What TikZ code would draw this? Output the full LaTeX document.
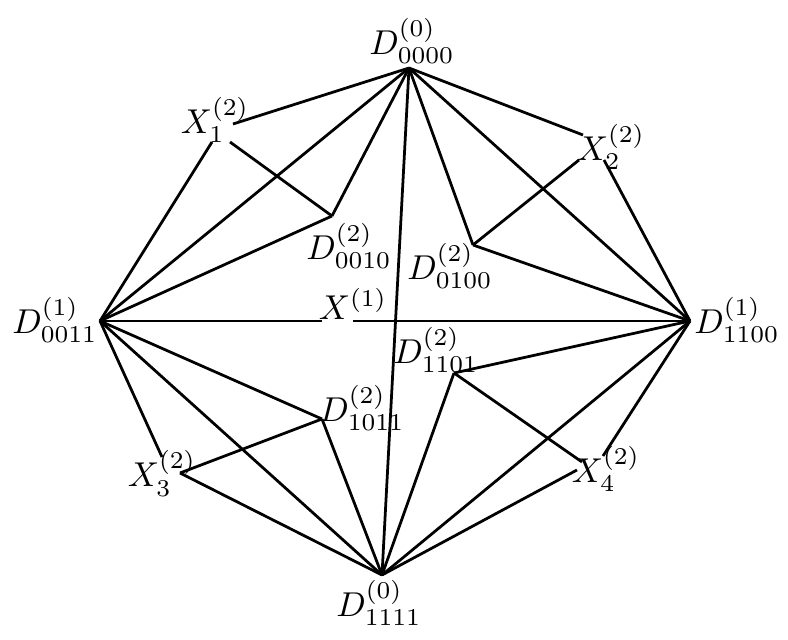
\documentclass[tikz,border=0pt]{standalone}
\begin{document}
\begin{tikzpicture}[x=0.29pt,y=-0.29pt,line width=0.8pt,
  lbl/.style={inner sep=0pt}]
\useasboundingbox (0,0) rectangle (788,640);
% meeting points
\coordinate (A) at (409,68);
\coordinate (B) at (382,575);
\coordinate (L) at (100,321);
\coordinate (R) at (690,321);
\coordinate (P0010) at (332,216);
\coordinate (P0100) at (473,245);
\coordinate (P1011) at (322,419);
\coordinate (P1101) at (454,373);
% labels
\node[lbl] (lA) at (412,41) {$D^{(0)}_{0000}$};
\node[lbl] (lB) at (379,603) {$D^{(0)}_{1111}$};
\node[lbl] (lL) at (55,320) {$D^{(1)}_{0011}$};
\node[lbl] (lR) at (737,320) {$D^{(1)}_{1100}$};
\node[lbl] (l0010) at (349,246) {$D^{(2)}_{0010}$};
\node[lbl] (l0100) at (450,266) {$D^{(2)}_{0100}$};
\node[lbl] (l1011) at (362,408) {$D^{(2)}_{1011}$};
\node[lbl] (l1101) at (436,350) {$D^{(2)}_{1101}$};
\node[lbl] (X1) at (215,120) {$X^{(2)}_{1}$};
\node[lbl] (X2) at (611,147) {$X^{(2)}_{2}$};
\node[lbl] (X3) at (162,473.5) {$X^{(2)}_{3}$};
\node[lbl] (X4) at (606,469) {$X^{(2)}_{4}$};
\node[lbl] (X0) at (353,304) {$X^{(1)}$};
% line ends at the X labels
\coordinate (x1r) at (233,124);
\coordinate (x1bl) at (212,142);
\coordinate (x1br) at (230,142);
\coordinate (x2l) at (583,135);
\coordinate (x2bl) at (579,160);
\coordinate (x2br) at (604,160);
\coordinate (x3t) at (162,457);
\coordinate (x3r) at (180,473);
\coordinate (x4a) at (582,462);
\coordinate (x4b) at (577,470);
\coordinate (x4r) at (603,456);
\coordinate (x0l) at (322,321);
\coordinate (x0r) at (353,321);
% connectors
\draw (A) -- (x1r);
\draw (A) -- (P0010);
\draw (A) -- (L);
\draw (A) -- (B);
\draw (A) -- (P0100);
\draw (A) -- (R);
\draw (A) -- (x2l);
\draw (L) -- (x1bl);
\draw (L) -- (P0010);
\draw (L) -- (x0l);
\draw (L) -- (P1011);
\draw (L) -- (B);
\draw (L) -- (x3t);
\draw (R) -- (x2br);
\draw (R) -- (P0100);
\draw (R) -- (x0r);
\draw (R) -- (P1101);
\draw (R) -- (B);
\draw (R) -- (x4r);
\draw (B) -- (x3r);
\draw (B) -- (P1011);
\draw (B) -- (P1101);
\draw (B) -- (x4b);
\draw (x1br) -- (P0010);
\draw (x2bl) -- (P0100);
\draw (x3r) -- (P1011);
\draw (x4a) -- (P1101);
\end{tikzpicture}
\end{document}
